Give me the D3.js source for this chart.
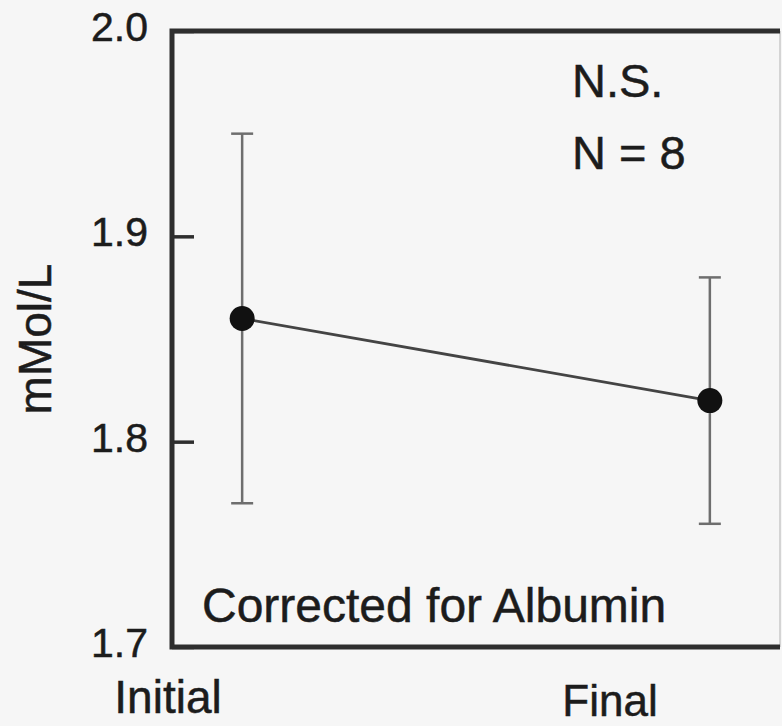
<!DOCTYPE html>
<html>
<head>
<meta charset="utf-8">
<script src="https://cdn.jsdelivr.net/npm/d3@7"></script>
<style>
  html, body { margin: 0; padding: 0; background: #f6f6f6; }
  svg { display: block; }
  text { font-family: "Liberation Sans", Arial, Helvetica, sans-serif; fill: #1c1c1c; stroke: #1c1c1c; stroke-width: 0.5; }
</style>
</head>
<body>
<svg id="chart" width="782" height="726"></svg>
<script>
// Serum level, corrected for albumin: mean with error bars at two time points
const categories = ["Initial", "Final"];
const means = [1.86, 1.82];
const upper = [1.95, 1.88];
const lower = [1.77, 1.76];
const yTicks = [1.7, 1.8, 1.9, 2.0];
const yTickLabels = ["1.7", "1.8", "1.9", "2.0"];

const svg = d3.select("#chart");
const W = 782, H = 726;
const m = { left: 172, top: 31, right: 2, bottom: 79 };

svg.append("rect").attr("width", W).attr("height", H).attr("fill", "#f6f6f6");

const x = d3.scalePoint().domain(categories).range([m.left, W - m.right]).padding(0.15);
const y = d3.scaleLinear().domain([1.7, 2.0]).range([H - m.bottom, m.top]);

// Frame: right side is faint
svg.append("line")
  .attr("x1", W - m.right).attr("x2", W - m.right)
  .attr("y1", y(2.0)).attr("y2", y(1.7))
  .attr("stroke", "#c8c8c8").attr("stroke-width", 1.5);

// Left axis with inward ticks
const yAxis = d3.axisRight(y).tickValues(yTicks).tickSize(22).tickFormat("");
const gy = svg.append("g").attr("transform", `translate(${m.left},0)`).call(yAxis);
gy.select(".domain").remove();
gy.selectAll(".tick line").attr("stroke", "#2e2e2e").attr("stroke-width", 3.5);

svg.selectAll("text.ylab")
  .data(yTicks)
  .join("text")
  .attr("class", "ylab")
  .attr("x", 148)
  .attr("y", d => y(d) + 10)
  .attr("text-anchor", "end")
  .attr("font-size", 41)
  .text((d, i) => yTickLabels[i]);

// Top, left and bottom frame lines
svg.append("path")
  .attr("d", `M${W - m.right},${y(2.0)} H${m.left} V${y(1.7)} H${W - m.right}`)
  .attr("fill", "none")
  .attr("stroke", "#2e2e2e")
  .attr("stroke-width", 5);

// Y axis title
svg.append("text")
  .attr("transform", `translate(51,${(y(2.0) + y(1.7)) / 2}) rotate(-90)`)
  .attr("text-anchor", "middle")
  .attr("font-size", 46)
  .text("mMol/L");

// Error bars
const bars = svg.append("g").attr("stroke", "#6e6e6e").attr("stroke-width", 2.5);
categories.forEach((c, i) => {
  bars.append("line").attr("x1", x(c)).attr("x2", x(c)).attr("y1", y(upper[i])).attr("y2", y(lower[i]));
  bars.append("line").attr("x1", x(c) - 11).attr("x2", x(c) + 11).attr("y1", y(upper[i])).attr("y2", y(upper[i]));
  bars.append("line").attr("x1", x(c) - 11).attr("x2", x(c) + 11).attr("y1", y(lower[i])).attr("y2", y(lower[i]));
});

// Connecting line
const line = d3.line().x((d, i) => x(categories[i])).y(d => y(d));
svg.append("path")
  .datum(means)
  .attr("d", line)
  .attr("fill", "none")
  .attr("stroke", "#444")
  .attr("stroke-width", 2.8);

// Mean markers
svg.selectAll("circle.mean")
  .data(means)
  .join("circle")
  .attr("class", "mean")
  .attr("cx", (d, i) => x(categories[i]))
  .attr("cy", d => y(d))
  .attr("r", 12.5)
  .attr("fill", "#111");

// Annotations
svg.append("text").attr("x", 572).attr("y", 97).attr("font-size", 47).text("N.S.");
svg.append("text").attr("x", 572).attr("y", 169).attr("font-size", 47).text("N = 8");
svg.append("text").attr("x", 202).attr("y", 622).attr("font-size", 48).text("Corrected for Albumin");

// Category labels
svg.append("text").attr("x", 168).attr("y", 713).attr("text-anchor", "middle").attr("font-size", 46).text(categories[0]);
svg.append("text").attr("x", 610).attr("y", 716).attr("text-anchor", "middle").attr("font-size", 44).text(categories[1]);
</script>
</body>
</html>
